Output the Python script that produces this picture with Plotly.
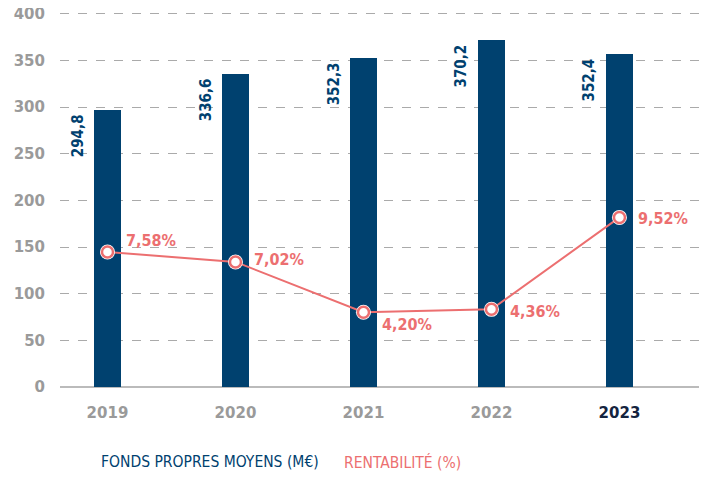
import plotly.graph_objects as go

years = ["2019", "2020", "2021", "2022", "2023"]
fonds = [297.3, 335.8, 352.9, 372.0, 357.0]
fonds_labels = ["294,8", "336,6", "352,3", "370,2", "352,4"]
rentabilite = [7.58, 7.02, 4.20, 4.36, 9.52]
rent_labels = ["7,58%", "7,02%", "4,20%", "4,36%", "9,52%"]
y_ticks = [0, 50, 100, 150, 200, 250, 300, 350, 400]

NAVY = "#00416f"
SALMON = "#ec6f70"
GRAY = "#9a9a9a"

# page body has an 8px margin: size the figure so it fits the 707x479 window
OFF = 8
W, H = 707 - OFF, 479 - OFF
ML, MR, MT, MB = 60 - OFF, 0, 12 - OFF, 92
Y_MAX = 402
Y2_MAX = 21.05

xs = list(range(len(years)))

fig = go.Figure()
fig.add_trace(go.Bar(x=xs, y=fonds, width=0.21, marker=dict(color=NAVY, line=dict(width=0)),
                     name="FONDS PROPRES MOYENS (M€)", showlegend=False, hoverinfo="skip"))
fig.add_trace(go.Scatter(x=xs, y=rentabilite, yaxis="y2", mode="lines",
                         line=dict(color=SALMON, width=2), showlegend=False, hoverinfo="skip"))
fig.add_trace(go.Scatter(x=xs, y=rentabilite, yaxis="y2", mode="markers",
                         marker=dict(size=15, color="white"), showlegend=False, hoverinfo="skip"))
fig.add_trace(go.Scatter(x=xs, y=rentabilite, yaxis="y2", mode="markers",
                         marker=dict(size=11, color="white", line=dict(color=SALMON, width=2.5)),
                         name="RENTABILITÉ (%)", showlegend=False, hoverinfo="skip"))

cond = "DejaVu Sans Condensed, Liberation Sans Narrow, Roboto, sans-serif"
tick_font = "DejaVu Sans, sans-serif"

for i, (v, t) in enumerate(zip(fonds, fonds_labels)):
    fig.add_annotation(x=i, y=v, xref="x", yref="y", text=t, textangle=-90,
                       showarrow=False, xanchor="center", yanchor="top",
                       xshift=-29.5, yshift=-2,
                       font=dict(family=cond, size=15, color=NAVY, weight="bold"))

rent_offsets = [(17, 11), (17, 2), (17, -12), (17, -2), (17, -1)]
for i, (v, t) in enumerate(zip(rentabilite, rent_labels)):
    dx, dy = rent_offsets[i]
    fig.add_annotation(x=i, y=v, xref="x", yref="y2", text=t, showarrow=False,
                       xanchor="left", yanchor="middle", xshift=dx, yshift=dy,
                       font=dict(family=cond, size=16, color=SALMON, weight="bold"))

pw, ph = W - ML - MR, H - MT - MB
def px_to_paper(px, py):
    # px, py are window pixel coordinates
    px -= OFF
    py -= OFF
    return (px - ML) / pw, (H - MB - py) / ph

lx1, ly1 = px_to_paper(99, 462)
lx2, ly2 = px_to_paper(342, 462)
fig.add_annotation(x=lx1, y=ly1, xref="paper", yref="paper", text="FONDS PROPRES MOYENS (M€)",
                   showarrow=False, xanchor="left", yanchor="middle",
                   font=dict(family=cond, size=15.5, color=NAVY))
fig.add_annotation(x=lx2, y=ly2, xref="paper", yref="paper", text="RENTABILITÉ (%)",
                   showarrow=False, xanchor="left", yanchor="middle",
                   font=dict(family=cond, size=15.5, color=SALMON))

fig.update_layout(
    width=W, height=H,
    margin=dict(l=ML, r=MR, t=MT, b=MB, autoexpand=False),
    plot_bgcolor="white", paper_bgcolor="white",
    bargap=0,
    xaxis=dict(range=[-0.371, 4.684], tickmode="array", tickvals=xs,
               ticktext=[y if y != "2023" else "<span style='color:#14243f'>2023</span>" for y in years],
               showgrid=False, zeroline=False, showline=False, automargin=False,
               tickfont=dict(family=tick_font, size=15, color=GRAY, weight="bold"),
               ticks="", ticklabelstandoff=15, fixedrange=True),
    yaxis=dict(range=[0, Y_MAX], tickmode="array", tickvals=y_ticks,
               showgrid=True, gridcolor="#aaaaaa", griddash="dash", gridwidth=1,
               zeroline=True, zerolinecolor="#bbbbbb", zerolinewidth=1.5,
               automargin=False, ticklabeloverflow="allow",
               tickfont=dict(family=tick_font, size=15, color=GRAY, weight="bold"),
               ticks="", ticklabelstandoff=14, fixedrange=True),
    yaxis2=dict(range=[0, Y2_MAX], overlaying="y", visible=False, fixedrange=True),
    showlegend=False,
)

fig.write_html("out.html")
